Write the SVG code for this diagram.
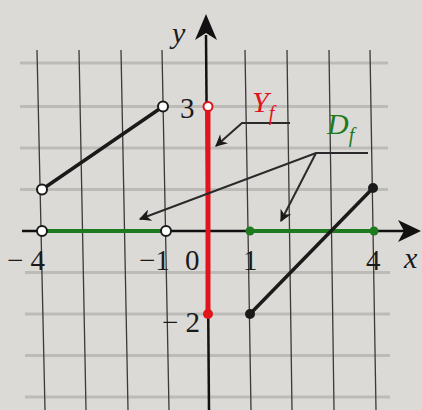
<svg xmlns="http://www.w3.org/2000/svg" width="422" height="410" viewBox="0 0 422 410">
<defs>
<style>
.vg{stroke:#3a3a3a;stroke-width:1.3}
.hg{stroke:#bdbbb7;stroke-width:3}
.axis{stroke:#111;stroke-width:2.5}
.seg{stroke:#1a1a1a;stroke-width:3.5;stroke-linecap:round}
.green{stroke:#1e7a1e;stroke-width:4}
.lead{stroke:#2a2a2a;stroke-width:2;fill:none}
.num{font-family:"Liberation Serif",serif;font-size:29px;fill:#1a1a1a}
.it{font-family:"Liberation Serif",serif;font-style:italic;font-size:30px}
.open{fill:#fff;stroke:#1a1a1a;stroke-width:2}
</style>
<marker id="ah" viewBox="0 0 10 10" refX="9" refY="5" markerWidth="16" markerHeight="12" orient="auto" markerUnits="userSpaceOnUse">
<path d="M0,0 L10,5 L0,10 L3,5 Z" fill="#1a1a1a"/>
</marker>
</defs>
<rect width="422" height="410" fill="#dcdad6"/>
<g id="grid">
<g class="hg">
<line x1="20" y1="63" x2="388" y2="63"/>
<line x1="20" y1="106.5" x2="388" y2="106.5"/>
<line x1="20" y1="148" x2="388" y2="148"/>
<line x1="20" y1="189.5" x2="388" y2="189.5"/>
<line x1="25" y1="272.5" x2="390" y2="272.5"/>
<line x1="25" y1="314" x2="390" y2="314"/>
<line x1="25" y1="355.5" x2="390" y2="355.5"/>
<line x1="25" y1="397" x2="390" y2="397"/>
</g>
<g class="vg">
<line x1="37" y1="50" x2="45" y2="410"/>
<line x1="79" y1="50" x2="86" y2="410"/>
<line x1="121" y1="50" x2="128" y2="410"/>
<line x1="162" y1="50" x2="169" y2="410"/>
<line x1="245" y1="50" x2="251" y2="410"/>
<line x1="287" y1="50" x2="292" y2="410"/>
<line x1="329" y1="50" x2="334" y2="410"/>
<line x1="370" y1="50" x2="376" y2="410"/>
</g>
</g>
<g id="axes">
<line class="axis" x1="22" y1="231" x2="405" y2="231"/>
<path d="M421,231 L398,220 L404,231 L398,242 Z" fill="#111"/>
<line class="axis" x1="206" y1="35" x2="209" y2="410"/>
<path d="M206,14 L195,40 L206,33 L217,40 Z" fill="#111"/>
</g>
<g id="range">
<line x1="208" y1="106.5" x2="208" y2="314" stroke="#e0141c" stroke-width="5"/>
<circle cx="208" cy="106.5" r="4.5" fill="#fff" stroke="#e0141c" stroke-width="2"/>
<circle cx="208" cy="314" r="5" fill="#e0141c"/>
</g>
<g id="domain">
<line class="green" x1="42" y1="231" x2="166" y2="231"/>
<line class="green" x1="250" y1="231" x2="374" y2="231"/>
<circle cx="250" cy="231" r="4.5" fill="#1e7a1e"/>
<circle cx="374" cy="231" r="4.5" fill="#1e7a1e"/>
</g>
<g id="graph">
<line class="seg" x1="42" y1="189.5" x2="163" y2="106.5"/>
<line class="seg" x1="250" y1="314" x2="373" y2="188"/>
<circle class="open" cx="42" cy="189.5" r="5"/>
<circle class="open" cx="163" cy="106.5" r="5"/>
<circle class="open" cx="42" cy="231" r="5"/>
<circle class="open" cx="166" cy="231" r="5"/>
<circle cx="250" cy="314" r="5" fill="#1a1a1a"/>
<circle cx="373" cy="188" r="5" fill="#1a1a1a"/>
</g>
<g id="connectors">
<polyline class="lead" points="290,123 242,123 216,146" marker-end="url(#ah)"/>
<polyline class="lead" points="368,153 316,153 140,219" marker-end="url(#ah)"/>
<line class="lead" x1="316" y1="153" x2="281" y2="221" marker-end="url(#ah)"/>
</g>
<g id="labels">
<text class="it" x="172" y="43" fill="#1a1a1a">y</text>
<text class="num" x="180" y="118">3</text>
<text class="it" x="252" y="112" fill="#e0141c">Y<tspan font-size="20" dy="8">f</tspan></text>
<text class="it" x="327" y="134" fill="#1e7a1e">D<tspan font-size="20" dy="8">f</tspan></text>
<text class="num" x="7" y="270">− 4</text>
<text class="num" x="139" y="270">−1</text>
<text class="num" x="185" y="270">0</text>
<text class="num" x="243" y="270">1</text>
<text class="num" x="366" y="270">4</text>
<text class="it" x="404" y="268" fill="#1a1a1a">x</text>
<text class="num" x="162" y="332">− 2</text>
</g>
</svg>
